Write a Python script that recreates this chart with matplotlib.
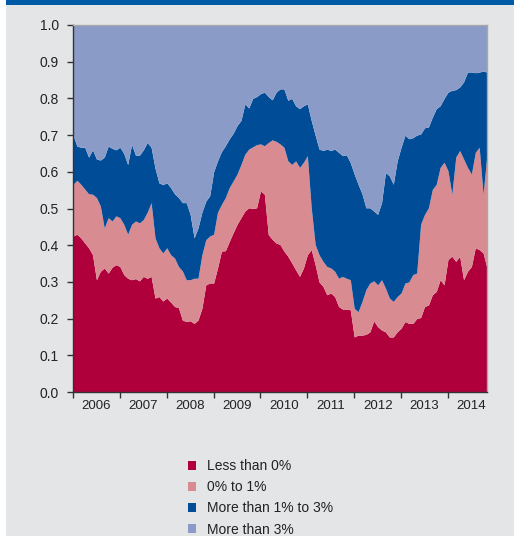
import numpy as np
import matplotlib
matplotlib.use("Agg")
import matplotlib.pyplot as plt
from matplotlib.patches import Patch, Rectangle

plt.rcParams['font.family'] = ['Liberation Sans', 'DejaVu Sans']

# monthly observations, Jan 2006 .. Nov 2014
start_year = 2006
n_months = 107

# cumulative shares (top edge of each band)
top_less_than_0 = [
    0.425, 0.43, 0.42, 0.406, 0.393, 0.374, 0.306, 0.329, 0.338, 0.324, 0.34, 0.347,
    0.342, 0.32, 0.31, 0.306, 0.309, 0.303, 0.315, 0.31, 0.315, 0.256, 0.26, 0.248,
    0.256, 0.245, 0.233, 0.23, 0.196, 0.192, 0.194, 0.187, 0.196, 0.228, 0.292, 0.297,
    0.297, 0.338, 0.384, 0.385, 0.41, 0.434, 0.457, 0.475, 0.493, 0.502, 0.50, 0.502,
    0.548, 0.539, 0.429, 0.416, 0.406, 0.402, 0.384, 0.37, 0.352, 0.333, 0.315, 0.338,
    0.374, 0.388, 0.347, 0.30, 0.288, 0.265, 0.27, 0.26, 0.233, 0.226, 0.226,
    0.224, 0.15, 0.155, 0.155, 0.157, 0.164, 0.194, 0.178, 0.169, 0.164, 0.15, 0.15,
    0.164, 0.174, 0.192, 0.187, 0.187, 0.20, 0.203, 0.233, 0.237, 0.265, 0.274, 0.306,
    0.292, 0.361, 0.37, 0.356, 0.37, 0.306, 0.329, 0.342, 0.393, 0.388, 0.379, 0.338,
]
top_0_to_1 = [
    0.566, 0.577, 0.566, 0.553, 0.54, 0.539, 0.53, 0.507, 0.447, 0.475, 0.466, 0.48,
    0.475, 0.457, 0.43, 0.457, 0.466, 0.461, 0.47, 0.49, 0.516, 0.42, 0.393, 0.379,
    0.393, 0.374, 0.365, 0.342, 0.33, 0.306, 0.306, 0.31, 0.31, 0.374, 0.415, 0.425,
    0.43, 0.49, 0.511, 0.53, 0.557, 0.575, 0.594, 0.62, 0.648, 0.662, 0.668, 0.674,
    0.676, 0.671, 0.68, 0.687, 0.683, 0.676, 0.667, 0.63, 0.62, 0.63, 0.612, 0.626,
    0.644, 0.502, 0.402, 0.374, 0.356, 0.342, 0.338, 0.329, 0.31, 0.315, 0.31,
    0.306, 0.228, 0.219, 0.247, 0.279, 0.297, 0.303, 0.292, 0.306, 0.283, 0.256, 0.247,
    0.26, 0.27, 0.297, 0.30, 0.32, 0.324, 0.457, 0.484, 0.502, 0.552, 0.566, 0.612,
    0.626, 0.603, 0.539, 0.64, 0.658, 0.635, 0.612, 0.594, 0.653, 0.667, 0.539, 0.648,
]
top_1_to_3 = [
    0.70, 0.67, 0.667, 0.667, 0.64, 0.66, 0.635, 0.632, 0.64, 0.67, 0.664, 0.66,
    0.667, 0.65, 0.62, 0.675, 0.645, 0.645, 0.66, 0.68, 0.667, 0.61, 0.57, 0.565,
    0.57, 0.557, 0.54, 0.53, 0.516, 0.516, 0.484, 0.42, 0.447, 0.49, 0.52, 0.535,
    0.60, 0.63, 0.655, 0.671, 0.69, 0.705, 0.726, 0.74, 0.785, 0.774, 0.80, 0.805,
    0.813, 0.817, 0.805, 0.796, 0.817, 0.826, 0.826, 0.795, 0.80, 0.78, 0.772, 0.78,
    0.785, 0.74, 0.70, 0.662, 0.658, 0.662, 0.658, 0.662, 0.653, 0.644, 0.646,
    0.625, 0.594, 0.566, 0.54, 0.502, 0.502, 0.493, 0.484, 0.516, 0.598, 0.589, 0.566,
    0.63, 0.667, 0.70, 0.69, 0.693, 0.70, 0.703, 0.72, 0.722, 0.749, 0.772, 0.78,
    0.80, 0.817, 0.822, 0.824, 0.831, 0.845, 0.872, 0.872, 0.87, 0.872, 0.874, 0.872,
]
top_more_than_3 = [1.0] * n_months

labels = ['Less than 0%', '0% to 1%', 'More than 1% to 3%', 'More than 3%']
colors = ['#b0003c', '#d88b90', '#004c97', '#8a9bc7']
years = list(range(2006, 2015))

t = start_year + np.arange(n_months) / 12.0
levels = [np.zeros(n_months), np.array(top_less_than_0), np.array(top_0_to_1),
          np.array(top_1_to_3), np.array(top_more_than_3)]

fig = plt.figure(figsize=(5.14, 5.36), dpi=100)
fig.patch.set_facecolor('white')
# grey panel + blue strip on top
fig.patches.append(Rectangle((6 / 514, 0), 1, 1, transform=fig.transFigure,
                             facecolor='#e4e5e7', edgecolor='none', zorder=-2))
fig.patches.append(Rectangle((6 / 514, 1 - 4.5 / 536), 1, 4.5 / 536, transform=fig.transFigure,
                             facecolor='#005aa5', edgecolor='none', zorder=-1))

ax = fig.add_axes([73 / 514, 1 - 392 / 536, (487 - 73) / 514, (392 - 25) / 536])
for i in range(4):
    ax.fill_between(t, levels[i], levels[i + 1], color=colors[i], linewidth=0, label=labels[i])

ax.set_xlim(start_year, t[-1])
ax.set_ylim(0, 1.0)
ax.set_yticks(np.arange(0, 1.01, 0.1))
ax.set_yticklabels(['%.1f' % v for v in np.arange(0, 1.01, 0.1)])
ax.set_xticks(years)
ax.set_xticklabels([])
ax.set_xticks([y + 0.5 for y in years], minor=True)
ax.set_xticklabels([str(y) for y in years], minor=True)
ax.tick_params(axis='x', which='major', direction='out', length=4, width=1, color='#333333')
ax.tick_params(axis='x', which='minor', length=0, pad=6, labelsize=9.5, labelcolor='#222222')
ax.tick_params(axis='y', direction='out', length=4, width=1, color='#333333',
               pad=6, labelsize=10, labelcolor='#222222')

ax.spines['left'].set_color('#333333')
ax.spines['bottom'].set_color('#333333')
ax.spines['top'].set_color('#a8a8a8')
ax.spines['right'].set_color('#a8a8a8')
for s in ax.spines.values():
    s.set_linewidth(1)

handles = [Patch(facecolor=c, edgecolor='none') for c in colors]
fig.legend(handles, labels, loc='upper left', bbox_to_anchor=(188 / 514, 1 - 459 / 536),
           frameon=False, fontsize=10, handlelength=0.6, handleheight=0.6,
           handletextpad=0.8, labelspacing=0.52, borderpad=0, borderaxespad=0,
           labelcolor='#222222')

plt.savefig('out.png', dpi=100)
